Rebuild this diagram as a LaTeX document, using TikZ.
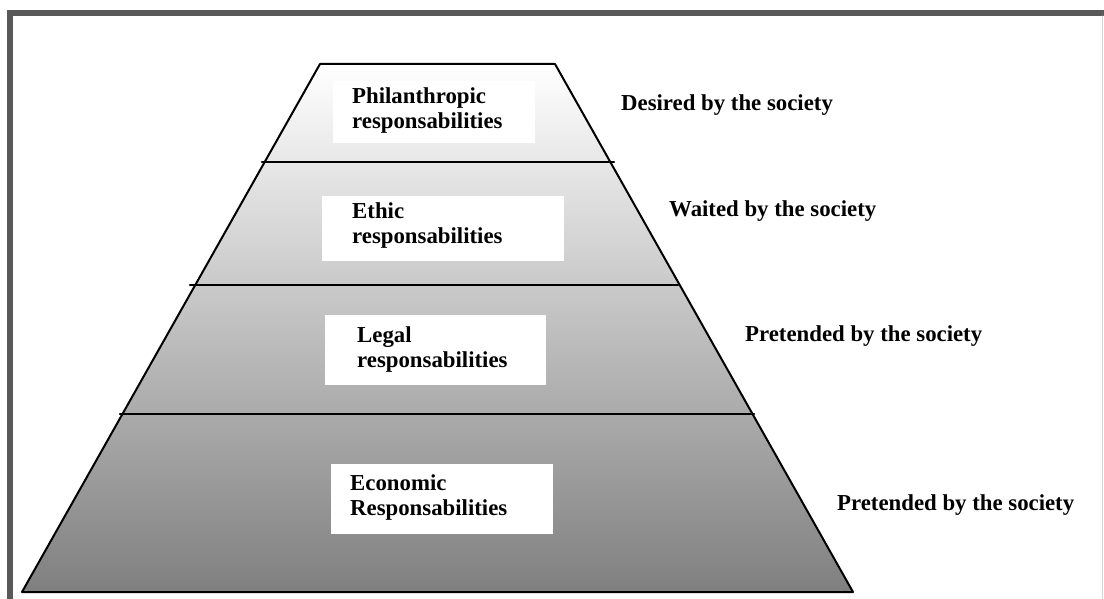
\documentclass[tikz,border=0pt]{standalone}
\usepackage{fontspec}
\setmainfont{Liberation Serif}
\definecolor{framegray}{HTML}{595959}
\begin{document}
\begin{tikzpicture}[x=1pt, y=-1pt, font=\fontsize{22.8}{25}\selectfont\bfseries, line join=round, line cap=round,
		whitebox/.style={fill=white},
		level/.style={anchor=north west, inner sep=0pt, align=left},
		said/.style={anchor=base west, inner sep=0pt}]
	\useasboundingbox (0,0) rectangle (1104,599);
	% frame
	\fill[framegray] (7,10) rectangle (1104,16);
	\fill[framegray] (7,10) rectangle (13,599);
	\draw[gray!35, line width=1pt] (1102.5,16) -- (1102.5,599);
	% pyramid
	\coordinate (A) at (320,64);
	\coordinate (B) at (555,64);
	\coordinate (C) at (853,592);
	\coordinate (D) at (22,592);
	\shade[top color=white, bottom color=gray] (A)--(B)--(C)--(D)--cycle;
	\draw[line width=2pt] (A)--(B)--(C)--(D)--cycle;
	\coordinate (P1) at (262,162);
	\coordinate (Q1) at (614,162);
	\coordinate (P2) at (190,285);
	\coordinate (Q2) at (678,285);
	\coordinate (P3) at (120,414);
	\coordinate (Q3) at (754,414);
	\draw[line width=2.2pt] (P1)--(Q1);
	\draw[line width=2.2pt] (P2)--(Q2);
	\draw[line width=2.2pt] (P3)--(Q3);
	% levels
	\fill[whitebox] (333,81) rectangle (535,143);
	\fill[whitebox] (322,196) rectangle (564,261);
	\fill[whitebox] (325,315) rectangle (546,385);
	\fill[whitebox] (331,464) rectangle (553,534);
	\node[level] (phil) at (352,87) {Philanthropic\\responsabilities};
	\node[level] (ethic) at (352,202) {Ethic\\responsabilities};
	\node[level] (legal) at (357,326) {Legal\\responsabilities};
	\node[level] (econ) at (350,474) {Economic\\Responsabilities};
	% society
	\node[said] (desired) at (621,111) {Desired by the society};
	\node[said] (waited) at (669,217) {Waited by the society};
	\node[said] (pretA) at (745,341) {Pretended by the society};
	\node[said] (pretB) at (837,510) {Pretended by the society};
\end{tikzpicture}
\end{document}
